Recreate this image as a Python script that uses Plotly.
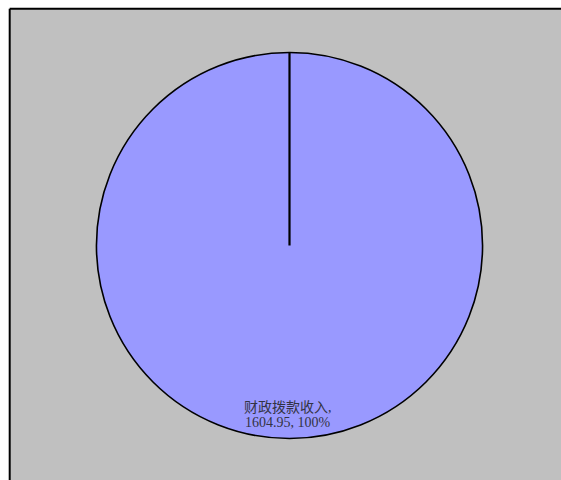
import plotly.graph_objects as go

categories = ["财政拨款收入"]
values = [1604.95]
percents = ["100%"]

W, H = 561, 480
# pie domain in paper fraction (pixel positions within the page)
dx = [96.5 / W, 482.5 / W]
dy = [1 - 438.5 / H, 1 - 52.5 / H]

fig = go.Figure()
fig.add_trace(go.Pie(
    labels=categories,
    values=values,
    sort=False,
    direction="clockwise",
    rotation=0,
    textinfo="none",
    hoverinfo="label+value+percent",
    marker=dict(colors=["#9999FF"], line=dict(color="#000000", width=1.6)),
    domain=dict(x=dx, y=dy),
    showlegend=False,
))

cx = (dx[0] + dx[1]) / 2
cy = (dy[0] + dy[1]) / 2

shapes = [
    # plot background panel
    dict(type="rect", xref="paper", yref="paper",
         x0=9.7 / W, x1=1.01, y0=-0.01, y1=1 - 8.7 / H,
         fillcolor="#C0C0C0", line=dict(width=0), layer="below"),
    dict(type="line", xref="paper", yref="paper",
         x0=9.7 / W, x1=1.01, y0=1 - 8.7 / H, y1=1 - 8.7 / H,
         line=dict(color="#000000", width=2), layer="below"),
    dict(type="line", xref="paper", yref="paper",
         x0=9.7 / W, x1=9.7 / W, y0=-0.01, y1=1 - 8.7 / H,
         line=dict(color="#000000", width=2), layer="below"),
    # radial slice boundary for the single slice
    dict(type="line", xref="paper", yref="paper",
         x0=cx, x1=cx, y0=cy, y1=dy[1],
         line=dict(color="#000000", width=2.2)),
]

label_lines = [f"{categories[0]},", f"{values[0]:.2f}, {percents[0]}"]
label_font = dict(family="Liberation Serif, Noto Sans CJK SC", size=14, color="#333344")
annotations = []
for i, line in enumerate(label_lines):
    annotations.append(dict(
        text=line, xref="paper", yref="paper",
        x=288 / W, y=1 - (407 + 15 * i) / H, showarrow=False,
        xanchor="center", yanchor="middle", height=14, valign="middle",
        font=label_font, align="center",
    ))

fig.update_layout(
    width=W, height=H,
    margin=dict(l=0, r=0, t=0, b=0),
    paper_bgcolor="#FFFFFF",
    shapes=shapes,
    annotations=annotations,
)

fig.write_html(
    "out.html",
    config={"displayModeBar": False},
    post_script="document.body.style.margin='0';document.documentElement.style.overflow='hidden';",
)
